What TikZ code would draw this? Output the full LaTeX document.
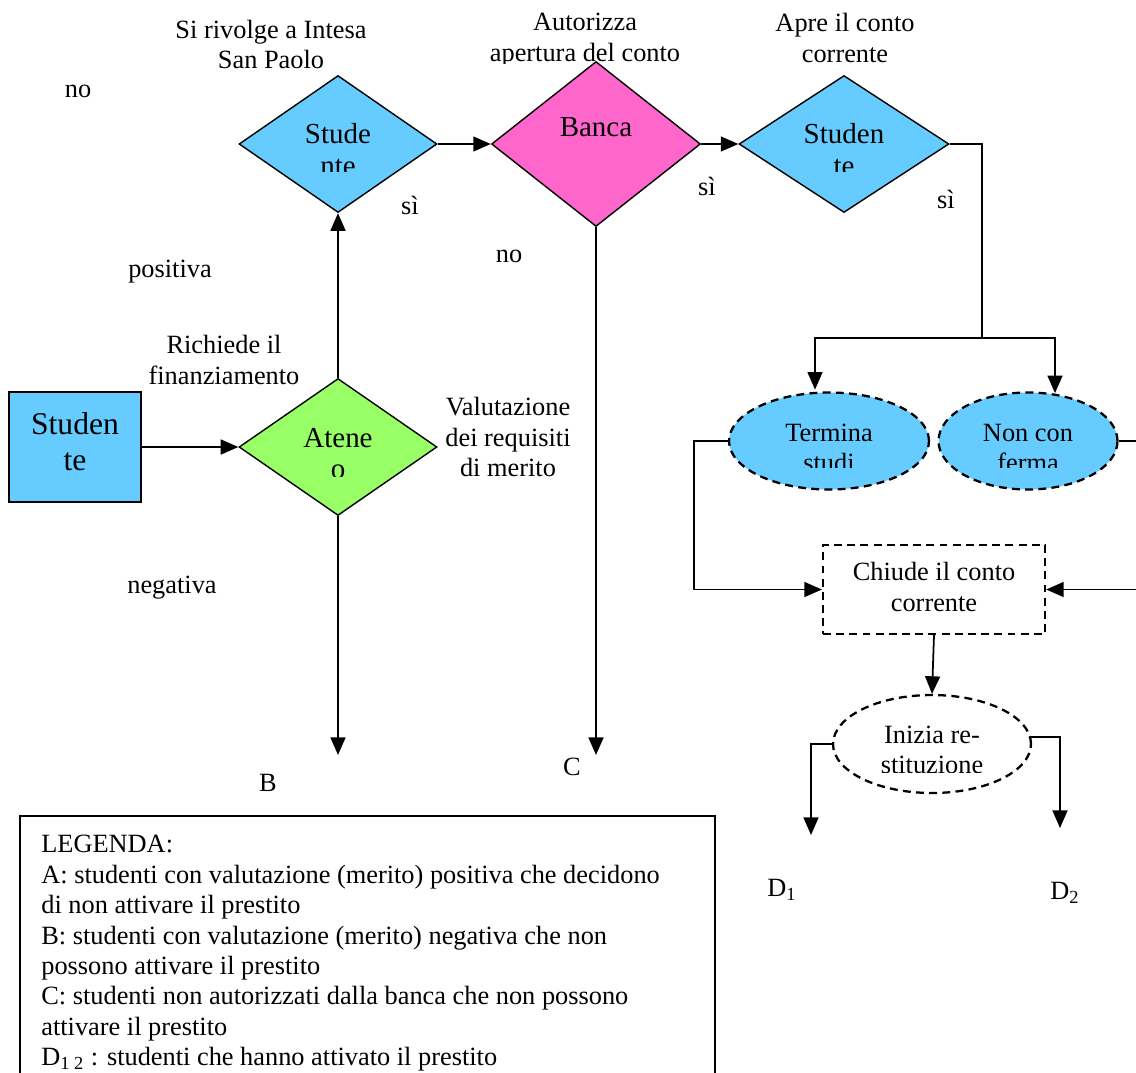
\documentclass[tikz,border=0pt]{standalone}
\usepackage{fontspec}
\setmainfont{Liberation Serif}
\usetikzlibrary{shapes.geometric, arrows.meta, positioning}

\definecolor{studblue}{HTML}{66CCFF}
\definecolor{ateneogreen}{HTML}{99FF66}
\definecolor{bancapink}{HTML}{FF66CC}

\begin{document}
\begin{tikzpicture}[x=0.02cm, y=-0.02cm,
    arr/.style={line width=1pt, -{Triangle[length=10pt, width=8.5pt]}},
    link/.style={line width=1pt},
    decision/.style={diamond, draw, line width=0.8pt, inner sep=0pt},
    event/.style={ellipse, draw, line width=1.3pt, dash pattern=on 4.5pt off 3pt, inner sep=0pt,
                  minimum width=4cm, minimum height=1.94cm},
    shapetext/.style={align=center, inner sep=0pt, font=\fontsize{16.5}{18}\selectfont},
    eventtext/.style={align=center, inner sep=0pt, font=\fontsize{15}{17}\selectfont},
    lbl/.style={align=center, inner sep=0pt, font=\fontsize{15}{17.6}\selectfont}]

    \useasboundingbox (0,0) rectangle (1136,1072);

    % shapes
    \node [draw, fill=studblue, line width=1pt, minimum width=2.64cm, minimum height=2.2cm] (stud-box) at (75,447) {};
    \node [decision, fill=ateneogreen, minimum width=3.96cm, minimum height=2.74cm] (ateneo) at (338,447) {};
    \node [decision, fill=studblue, minimum width=3.96cm, minimum height=2.74cm] (stud-ask) at (338,144) {};
    \node [decision, fill=bancapink, minimum width=4.18cm, minimum height=3.3cm] (banca) at (596,144) {};
    \node [decision, fill=studblue, minimum width=4.2cm, minimum height=2.74cm] (stud-open) at (844,144) {};
    \node [event, fill=studblue] (termina) at (829,441) {};
    \node [event, fill=studblue, minimum width=3.58cm] (noncon) at (1028,441) {};
    \node [draw, line width=1.3pt, dash pattern=on 4.5pt off 3pt, minimum width=4.44cm,
           minimum height=1.78cm] (chiude) at (934,589.5) {};
    \node [event, minimum width=3.96cm, minimum height=1.96cm] (inizia) at (932,744) {};

    % texts inside the shapes, cut at the bottom as in the original
    \node [align=center, inner sep=0pt, font=\fontsize{18}{20.4}\selectfont] (stud-box-text) at (75,442) {Studen\\te};
    \begin{scope}
      \clip (239,60) rectangle (437,171);
      \node [shapetext] (stud-ask-text) at (338,149.5) {Stude\\nte};
    \end{scope}
    \begin{scope}
      \clip (239,379) rectangle (437,476);
      \node [shapetext] (ateneo-text) at (338,453.5) {Atene\\o};
    \end{scope}
    \node [shapetext] (banca-text) at (596,127) {Banca};
    \begin{scope}
      \clip (739,60) rectangle (949,171);
      \node [shapetext] (stud-open-text) at (844,149.5) {Studen\\te};
    \end{scope}
    \begin{scope}
      \clip (729,393) rectangle (1118,467);
      \node [eventtext] (termina-text) at (829,448) {Termina\\studi};
      \node [eventtext] (noncon-text) at (1028,448) {Non con\\ferma};
    \end{scope}
    \node [lbl] (chiude-text) at (934,587) {Chiude il conto\\corrente};
    \begin{scope}
      \clip (833,695) rectangle (1031,772);
      \node [eventtext] (inizia-text) at (932,750) {Inizia re-\\stituzione};
    \end{scope}

    % labels
    \node [lbl] (lbl-no-a) at (78,91.5) {no};
    \node [lbl] (lbl-rivolge) at (271,44.5) {Si rivolge a Intesa\\San Paolo};
    \node [lbl] (lbl-si-a) at (410,205) {sì};
    \node [lbl] (lbl-positiva) at (170,272) {positiva};
    \node [lbl] (lbl-richiede) at (224,360) {Richiede il\\finanziamento};
    \node [lbl] (lbl-valuta) at (508,437) {Valutazione\\dei requisiti\\di merito};
    \node [lbl] (lbl-negativa) at (172,588) {negativa};
    \node [lbl] (lbl-b) at (268,783) {B};
    \begin{scope}
      \clip (440,0) rectangle (740,63);
      \node [lbl] (lbl-autorizza) at (585,40.5) {Autorizza\\apertura del conto};
    \end{scope}
    \node [lbl] (lbl-no-b) at (509,256.5) {no};
    \node [lbl] (lbl-c) at (572,767) {C};
    \node [lbl] (lbl-si-b) at (707,186) {sì};
    \node [lbl] (lbl-apre) at (845,38) {Apre il conto\\corrente};
    \node [lbl] (lbl-si-c) at (946,199) {sì};
    \node [lbl] (lbl-d1) at (782,890) {D\textsubscript{1}};
    \node [lbl] (lbl-d2) at (1065,893) {D\textsubscript{2}};

    % free ends
    \coordinate (b-end) at (338,755);
    \coordinate (c-end) at (596,755);
    \coordinate (split) at (982,338);
    \coordinate (d1-end) at (811,835);
    \coordinate (d2-end) at (1060,828);

    % connectors
    \draw [arr] (stud-box) -- (ateneo);
    \draw [arr] (ateneo.north) -- (stud-ask.south);
    \draw [arr] (ateneo.south) -- (b-end);
    \draw [arr] (stud-ask.east) -- (banca.west);
    \draw [arr] (banca.south) -- (c-end);
    \draw [arr] (banca.east) -- (stud-open.west);
    \draw [link] (stud-open.east) -| (split);
    \draw [arr] (split) -| ([xshift=-0.28cm, yshift=1pt]termina.north);
    \draw [arr] (split) -| ([xshift=0.54cm, yshift=-1pt]noncon.north);
    \draw [arr] (termina.west) -- ++(-34,0) |- (chiude.west);
    \draw [arr] (noncon.east) -- ++(40,0) |- (chiude.east);
    \draw [arr] (chiude.south) -- (inizia.north);
    \draw [arr] (inizia.west) -| (d1-end);
    \draw [arr] (inizia.4) -| (d2-end);

    % legend
    \draw [line width=1pt] (20,816) rectangle (715,1090);
    \node [anchor=north west, align=left, inner sep=0pt, font=\fontsize{15}{17.3}\selectfont]
      (legend) at (41,835) {LEGENDA:\\
        A: studenti con valutazione (merito) positiva che decidono\\
        di non attivare il prestito\\
        B: studenti con valutazione (merito) negativa che non\\
        possono attivare il prestito\\
        C: studenti non autorizzati dalla banca che non possono\\
        attivare il prestito\\
        D\textsubscript{1 2} : studenti che hanno attivato il prestito};

\end{tikzpicture}
\end{document}
